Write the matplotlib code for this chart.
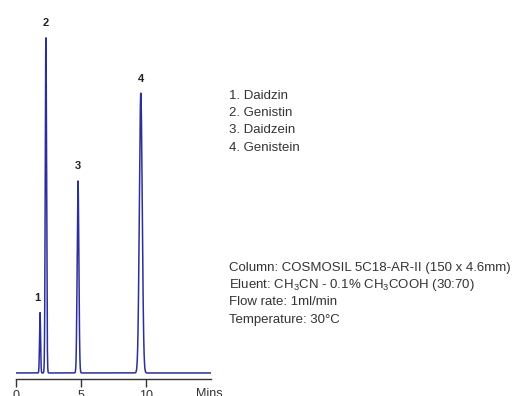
import numpy as np
import matplotlib
matplotlib.use("Agg")
import matplotlib.pyplot as plt

plt.rcParams['font.family'] = ['Liberation Sans', 'DejaVu Sans']
plt.rcParams['mathtext.default'] = 'regular'

# Peak data (retention time in min, relative height, width sigma)
peak_ids = ["1", "2", "3", "4"]
peak_times = [1.85, 2.3, 4.77, 9.6]
peak_heights = [18, 100, 57.3, 83.5]
peak_sigmas = [0.04, 0.05, 0.065, 0.11]

compounds = ["1. Daidzin", "2. Genistin", "3. Daidzein", "4. Genistein"]
conditions = [
    "Column: COSMOSIL 5C18-AR-II (150 x 4.6mm)",
    "Eluent: CH$_3$CN - 0.1% CH$_3$COOH (30:70)",
    "Flow rate: 1ml/min",
    "Temperature: 30°C",
]
xticks = [0, 5, 10]
xmax = 15

line_color = "#2b2f9a"
text_color = "#333333"

fig = plt.figure(figsize=(5.2, 3.96), dpi=100)
ax = fig.add_axes([16/520, (396-379)/396, 195/520, 369/396])

t = np.linspace(0, xmax, 3000)
y = np.zeros_like(t)
for rt, h, s in zip(peak_times, peak_heights, peak_sigmas):
    y += h * np.exp(-0.5 * ((t - rt) / s) ** 2)
ax.plot(t, y, color=line_color, lw=1.1)

for pid, rt, h in zip(peak_ids, peak_times, peak_heights):
    dx = -2 if pid == "1" else 0
    ax.annotate(pid, (rt, h), xytext=(dx, 10.5), textcoords="offset points",
                ha="center", va="center", fontsize=8, fontweight="bold",
                color="#222222")

ax.set_xlim(0, xmax)
ax.set_ylim(-1.8, 108.3)
for sp in ["top", "right", "left"]:
    ax.spines[sp].set_visible(False)
ax.spines["bottom"].set_color("#333333")
ax.spines["bottom"].set_linewidth(1.0)
ax.set_yticks([])
ax.set_xticks(xticks)
ax.set_xticklabels([str(v) for v in xticks])
ax.tick_params(axis="x", direction="out", length=6, width=1, color="#333333",
               labelsize=9, labelcolor=text_color, pad=2)
ax.text(xmax - 0.1, -0.025, "Mins", transform=ax.get_xaxis_transform(), ha="center",
        va="top", fontsize=9, color=text_color)
ax.patch.set_visible(False)

y0 = 96
for i, s in enumerate(compounds):
    fig.text(229/520, 1 - (y0 + 17.2 * i) / 396, s, ha="left", va="center",
             fontsize=9.5, color=text_color)
y1 = 268
for i, s in enumerate(conditions):
    fig.text(229/520, 1 - (y1 + 17.2 * i) / 396, s, ha="left", va="center",
             fontsize=9.5, color=text_color)

fig.savefig("out.png", dpi=100)
